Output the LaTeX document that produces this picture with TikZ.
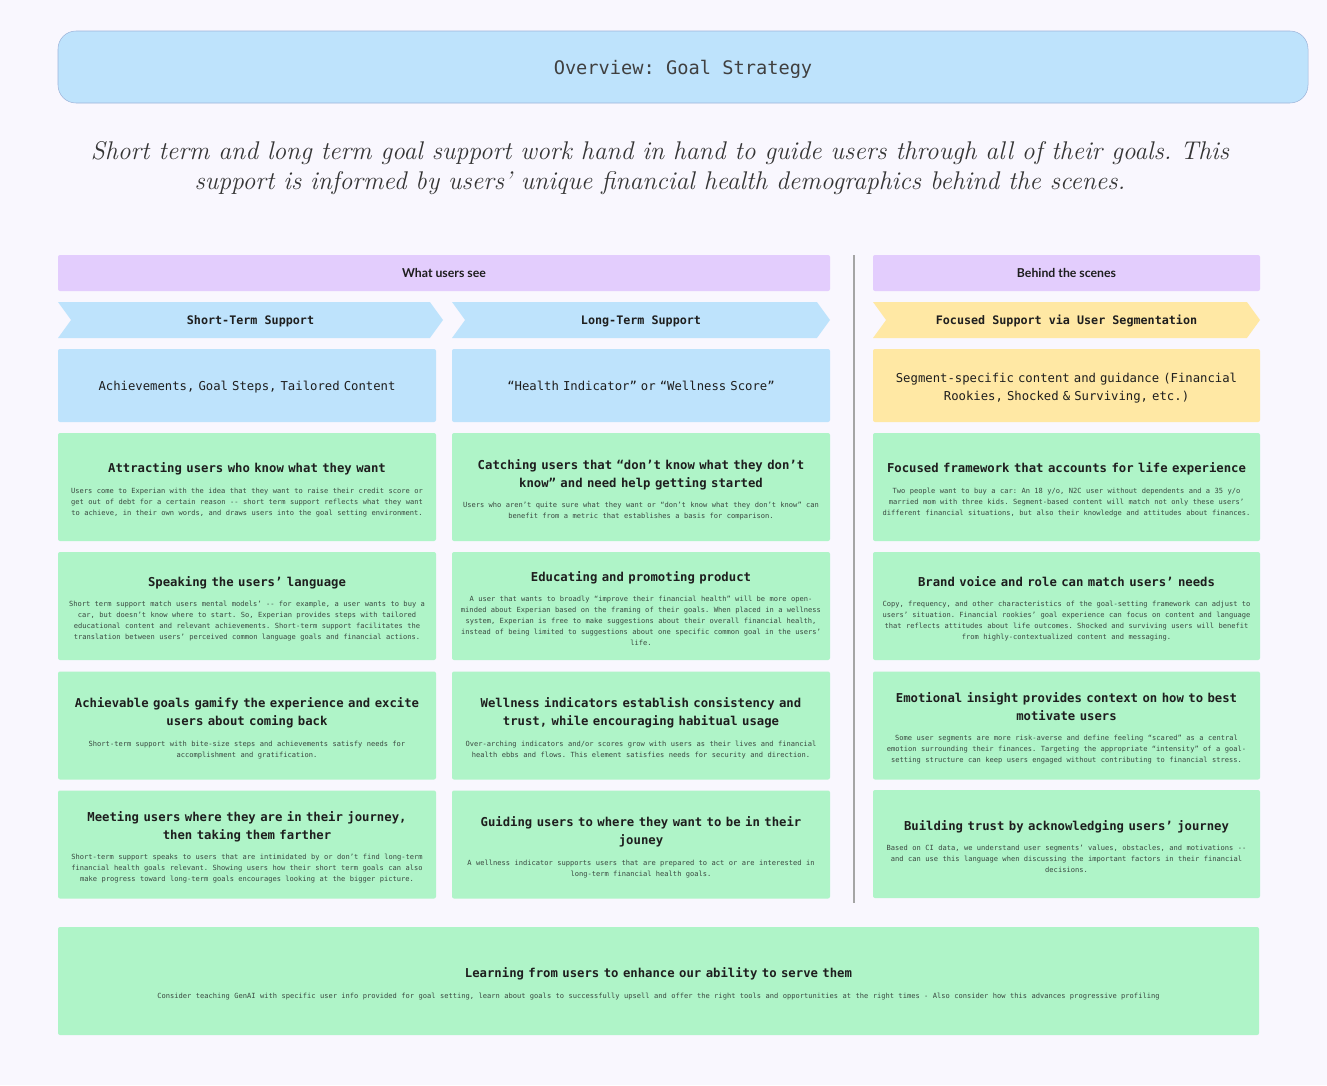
\documentclass[tikz,border=0pt]{standalone}
\usepackage{fontspec}
\setmonofont{DejaVu Sans Mono}
\newfontfamily\headfont{Lato}
\definecolor{pagebg}{RGB}{249,247,254}
\definecolor{skyblue}{RGB}{190,227,252}
\definecolor{skyedge}{RGB}{158,181,218}
\definecolor{lavender}{RGB}{227,205,253}
\definecolor{mintgreen}{RGB}{175,244,200}
\definecolor{butter}{RGB}{255,232,164}
\definecolor{inkdark}{RGB}{30,30,30}
\definecolor{inkbody}{RGB}{58,72,64}
\definecolor{rulegray}{RGB}{165,165,165}
\usetikzlibrary{shapes.symbols}
\frenchspacing

\newcommand{\cardtext}[2]{{\fontsize{9.2}{13.5}\selectfont\bfseries #1\par}\vspace{7pt}{\color{inkbody}\fontsize{5.3}{8.25}\selectfont #2\par}\vspace{-4pt}}

\begin{document}
\begin{tikzpicture}[x=0.75pt,y=-0.75pt,
    card/.style={fill=mintgreen, rounded corners=1.5pt, minimum width=283.5pt, minimum height=81pt,
      text width=276pt, align=center, inner sep=0pt, font=\ttfamily, text=inkdark},
    widecard/.style={card, minimum width=290.25pt, text width=284pt},
    subbox/.style={card, fill=skyblue, minimum height=54.75pt, font=\ttfamily\fontsize{9.2}{13.5}\selectfont,
      execute at end node={\endgraf\vspace{-4.5pt}}},
    chevron/.style={shape=signal, signal from=west, signal to=east, signal pointer angle=108,
      fill=skyblue, minimum height=27pt, inner sep=0pt, text=inkdark, text depth=0pt,
      font=\ttfamily\bfseries\fontsize{8.8}{10}\selectfont},
    sectionbar/.style={fill=lavender, rounded corners=1.5pt, minimum height=27pt, inner sep=0pt,
      text=inkdark, font=\headfont\bfseries\fontsize{9.2}{10}\selectfont}]
    \fill[pagebg] (0,0) rectangle (1327,1085);
    % heading
    \node[fill=skyblue, draw=skyedge, rounded corners=13.5pt, minimum width=937.5pt, minimum height=54pt,
      text depth=0pt, text=inkdark!85, font=\ttfamily\fontsize{14}{16}\selectfont] (title) at (683,67) {Overview: Goal Strategy};
    \node[align=center, text=inkdark!90, font=\rmfamily\itshape\fontsize{19.2}{22.5}\selectfont] (subtitle) at (660,168)
      {Short term and long term goal support work hand in hand to guide users through all of their goals. This\\
       support is informed by users’ unique financial health demographics behind the scenes.};

    % section bars
    \node[sectionbar, minimum width=579pt] (usersee) at (444,273) {What users see};
    \node[sectionbar, minimum width=290.25pt] (behind) at (1066.5,273) {Behind the scenes};
    \draw[rulegray, line width=1.5pt] (854,255) -- (854,903);

    % chevrons
    \node[chevron, minimum width=288.75pt] (shortchev) at (250.5,320) {Short-Term Support};
    \node[chevron, minimum width=283.5pt] (longchev) at (641,320) {Long-Term Support};
    \node[chevron, fill=butter, minimum width=290.25pt] (segchev) at (1066.5,320) {Focused Support via User Segmentation};

    % what is shown
    \node[subbox] (shortsub) at (247,385.5) {Achievements, Goal Steps, Tailored Content};
    \node[subbox] (longsub) at (641,385.5) {“Health Indicator” or “Wellness Score”};
    \node[subbox, fill=butter, minimum width=290.25pt, text width=284pt] (segsub) at (1066.5,385.5)
      {Segment-specific content and guidance (Financial\\ Rookies, Shocked \& Surviving, etc.)};

    % short-term column
    \node[card] (s1) at (247,487) {\cardtext{Attracting users who know what they want}
      {Users come to Experian with the idea that they want to raise their credit score or\\
       get out of debt for a certain reason -- short term support reflects what they want\\
       to achieve, in their own words, and draws users into the goal setting environment.}};
    \node[card] (s2) at (247,606) {\cardtext{Speaking the users’ language}
      {Short term support match users mental models’ -- for example, a user wants to buy a\\
       car, but doesn’t know where to start. So, Experian provides steps with tailored\\
       educational content and relevant achievements. Short-term support facilitates the\\
       translation between users’ perceived common language goals and financial actions.}};
    \node[card] (s3) at (247,725.5) {\cardtext{Achievable goals gamify the experience and excite\\ users about coming back}
      {Short-term support with bite-size steps and achievements satisfy needs for\\
       accomplishment and gratification.}};
    \node[card] (s4) at (247,844.5) {\cardtext{Meeting users where they are in their journey,\\ then taking them farther}
      {Short-term support speaks to users that are intimidated by or don’t find long-term\\
       financial health goals relevant. Showing users how their short term goals can also\\
       make progress toward long-term goals encourages looking at the bigger picture.}};

    % long-term column
    \node[card] (l1) at (641,487) {\cardtext{Catching users that “don’t know what they don’t\\ know” and need help getting started}
      {Users who aren’t quite sure what they want or “don’t know what they don’t know” can\\
       benefit from a metric that establishes a basis for comparison.}};
    \node[card] (l2) at (641,606) {\cardtext{Educating and promoting product}
      {A user that wants to broadly “improve their financial health” will be more open-\\
       minded about Experian based on the framing of their goals. When placed in a wellness\\
       system, Experian is free to make suggestions about their overall financial health,\\
       instead of being limited to suggestions about one specific common goal in the users’\\
       life.}};
    \node[card] (l3) at (641,725.5) {\cardtext{Wellness indicators establish consistency and\\ trust, while encouraging habitual usage}
      {Over-arching indicators and/or scores grow with users as their lives and financial\\
       health ebbs and flows. This element satisfies needs for security and direction.}};
    \node[card] (l4) at (641,844.5) {\cardtext{Guiding users to where they want to be in their\\ jouney}
      {A wellness indicator supports users that are prepared to act or are interested in\\
       long-term financial health goals.}};

    % segmentation column
    \node[widecard] (g1) at (1066.5,487) {\cardtext{Focused framework that accounts for life experience}
      {Two people want to buy a car: An 18 y/o, N2C user without dependents and a 35 y/o\\
       married mom with three kids. Segment-based content will match not only these users’\\
       different financial situations, but also their knowledge and attitudes about finances.}};
    \node[widecard] (g2) at (1066.5,606) {\cardtext{Brand voice and role can match users’ needs}
      {Copy, frequency, and other characteristics of the goal-setting framework can adjust to\\
       users’ situation. Financial rookies’ goal experience can focus on content and language\\
       that reflects attitudes about life outcomes. Shocked and surviving users will benefit\\
       from highly-contextualized content and messaging.}};
    \node[widecard] (g3) at (1066.5,725.5) {\cardtext{Emotional insight provides context on how to best\\ motivate users}
      {Some user segments are more risk-averse and define feeling “scared” as a central\\
       emotion surrounding their finances. Targeting the appropriate “intensity” of a goal-\\
       setting structure can keep users engaged without contributing to financial stress.}};
    \node[widecard] (g4) at (1066.5,844) {\cardtext{Building trust by acknowledging users’ journey}
      {Based on CI data, we understand user segments’ values, obstacles, and motivations --\\
       and can use this language when discussing the important factors in their financial\\
       decisions.}};

    % bottom
    \node[card, minimum width=900.75pt, text width=890pt] (learn) at (658.5,981) {\cardtext{Learning from users to enhance our ability to serve them}
      {Consider teaching GenAI with specific user info provided for goal setting, learn about goals to successfully upsell and offer the right tools and opportunities at the right times - Also consider how this advances progressive profiling}};
\end{tikzpicture}
\end{document}
